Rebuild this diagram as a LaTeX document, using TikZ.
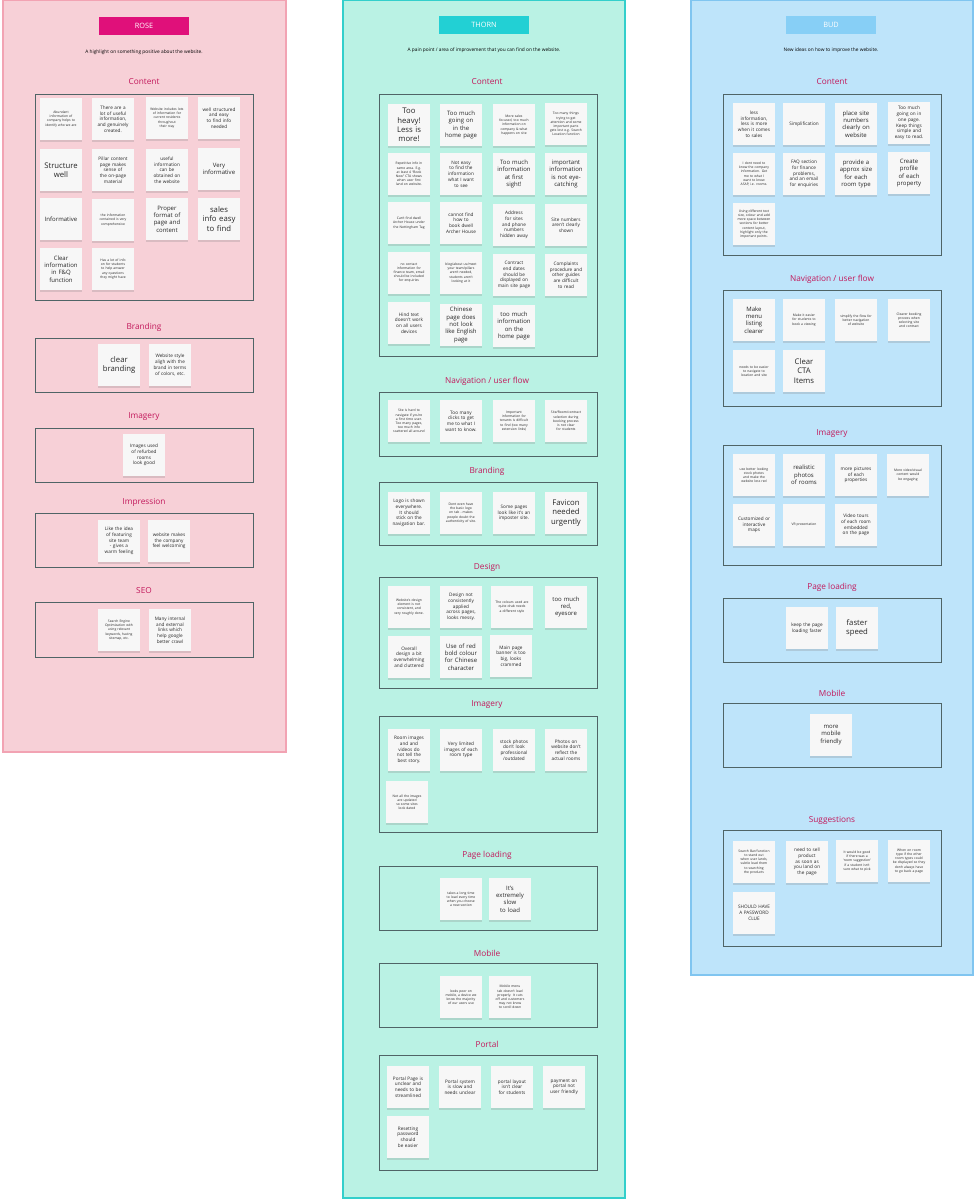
\documentclass[tikz,border=0pt]{standalone}
\usepackage{fontspec}
\setmainfont{Open Sans}
\usetikzlibrary{shadows}
\lefthyphenmin=62
\righthyphenmin=62
\definecolor{rosebg}{HTML}{F7D0D7}
\definecolor{roseln}{HTML}{F2A3B3}
\definecolor{rosehd}{HTML}{E0107A}
\definecolor{thbg}{HTML}{BAF2E4}
\definecolor{thln}{HTML}{33CFCB}
\definecolor{thhd}{HTML}{22D0D4}
\definecolor{budbg}{HTML}{BEE4FA}
\definecolor{budln}{HTML}{80C5F0}
\definecolor{budhd}{HTML}{87CFF6}
\definecolor{sectc}{HTML}{C2185B}
\definecolor{boxln}{HTML}{4F6466}
\tikzset{
 note/.style={fill=white!97!black,minimum width=31pt,minimum height=31pt,inner sep=0.5pt,align=center,text width=25pt,text=black!85,drop shadow={opacity=0.25,shadow xshift=0pt,shadow yshift=-2pt}},
 ts/.style={font=\fontsize{2.5}{3.1}\selectfont},
 tm/.style={font=\fontsize{3.5}{4.3}\selectfont},
 tl/.style={font=\fontsize{4.5}{5.5}\selectfont},
 tx/.style={font=\fontsize{5.8}{7}\selectfont},
 col/.style={draw=#1,line width=0.8pt},
 sbox/.style={draw=boxln,line width=0.6pt},
 stitle/.style={text=sectc,font=\fontsize{6.2}{7}\selectfont},
 hdr/.style={fill=#1,text=white,minimum width=67pt,minimum height=14pt,font=\fontsize{5.5}{6}\selectfont},
 sub/.style={font=\fontsize{3.6}{4.4}\selectfont}
}
\newcommand\stk[5]{\node[note,#4] (#1) at (#2,#3) {#5};}
\begin{document}
\begin{tikzpicture}[x=0.75pt,y=-0.75pt]
\useasboundingbox (0,0) rectangle (978,1199);
\fill[white] (0,0) rectangle (978,1199);
\draw[col=roseln,fill=rosebg] (3,0) rectangle (286,752);
\draw[col=thln,fill=thbg] (343,0) rectangle (625,1198);
\draw[col=budln,fill=budbg] (691,0) rectangle (973,975);
\node[hdr=rosehd] (hrose) at (144,26) {ROSE};
\node[hdr=thhd] (hthorn) at (484,25) {THORN};
\node[hdr=budhd] (hbud) at (831,25) {BUD};
\node[sub] (subr) at (144,52) {A highlight on something positive about the website.};
\node[sub] (subt) at (484,50) {A pain point / area of improvement that you can find on the website.};
\node[sub] (subb) at (831,50) {New ideas on how to improve the website.};
% ROSE
\node[stitle] (rt1) at (144,82) {Content};
\draw[sbox] (35,94) rectangle (253,300);
\node[stitle] (rt2) at (144,327) {Branding};
\draw[sbox] (35,338) rectangle (253,392);
\node[stitle] (rt3) at (144,417) {Imagery};
\draw[sbox] (35,428) rectangle (253,482);
\node[stitle] (rt4) at (144,502) {Impression};
\draw[sbox] (35,513) rectangle (253,567);
\node[stitle] (rt5) at (144,591) {SEO};
\draw[sbox] (35,602) rectangle (253,657);
\stk{r1}{61}{119}{ts}{Abundant information of company helps to identify who we are}
\stk{r2}{113}{119}{tm}{There are a lot of useful information, and genuinely created.}
\stk{r3}{167}{118}{ts}{Website includes lots of information for current residents throughout their stay}
\stk{r4}{219}{118}{tm}{well structured and easy to find info needed}
\stk{r5}{61}{170}{tx}{Structure well}
\stk{r6}{113}{170}{tm}{Pillar content page makes sense of the on-page material}
\stk{r7}{167}{170}{tm}{useful information can be obtained on the website}
\stk{r8}{219}{169}{tl}{Very informative}
\stk{r9}{61}{219}{tl}{Informative}
\stk{r10}{113}{220}{ts}{the information contained is very comprehensive}
\stk{r11}{167}{219}{tl}{Proper format of page and content}
\stk{r12}{219}{219}{tx}{sales info easy to find}
\stk{r13}{61}{269}{tl}{Clear information in F\&Q function}
\stk{r14}{113}{269}{ts}{Has a lot of info on for students to help answer any questions they might have}
\stk{r15}{119}{365}{tx}{clear branding}
\stk{r16}{170}{365}{tm}{Website style aligh with the brand in terms of colors, etc.}
\stk{r17}{144}{455}{tm}{Images used of refurbed rooms look good}
\stk{r18}{119}{541}{tm}{Like the idea of featuring site team - gives a warm feeling}
\stk{r19}{169}{541}{tm}{website makes the company feel welcoming}
\stk{r20}{119}{630}{ts}{Search Engine Optimization with using relevant keywords, having sitemap, etc.}
\stk{r21}{170}{630}{tm}{Many internal and external links which help google better crawl}
% THORN
\node[stitle] (tt1) at (487,82) {Content};
\draw[sbox] (379,94) rectangle (597,356);
\node[stitle] (tt2) at (487,381) {Navigation / user flow};
\draw[sbox] (379,392) rectangle (597,456);
\node[stitle] (tt3) at (487,471) {Branding};
\draw[sbox] (379,482) rectangle (597,545);
\node[stitle] (tt4) at (487,567) {Design};
\draw[sbox] (379,577) rectangle (597,688);
\node[stitle] (tt5) at (487,705) {Imagery};
\draw[sbox] (379,716) rectangle (597,832);
\node[stitle] (tt6) at (487,855) {Page loading};
\draw[sbox] (379,866) rectangle (597,930);
\node[stitle] (tt7) at (487,953) {Mobile};
\draw[sbox] (379,963) rectangle (597,1027);
\node[stitle] (tt8) at (487,1044) {Portal};
\draw[sbox] (379,1055) rectangle (597,1170);
\stk{t1}{409}{125}{tx}{Too heavy! Less is more!}
\stk{t2}{461}{125}{tl}{Too much going on in the home page}
\stk{t3}{514}{125}{ts}{More sales focused, too much information on company \& what happens on site}
\stk{t4}{566}{124}{ts}{Too many things trying to get attention and some important parts gets lost e.g. Search Location function}
\stk{t5}{409}{174}{ts}{Repetitive info in same area. E.g. at least 4 ``Book Now'' CTA shows when user first land on website.}
\stk{t6}{461}{174}{tm}{Not easy to find the information what I want to see}
\stk{t7}{514}{174}{tl}{Too much information at first sight!}
\stk{t8}{566}{174}{tl}{important information is not eye-catching}
\stk{t9}{409}{223}{ts}{Can't find dwell Archer House under the Nottingham Tag}
\stk{t10}{461}{223}{tm}{cannot find how to book dwell Archer House}
\stk{t11}{514}{225}{tm}{Address for sites and phone numbers hidden away}
\stk{t12}{566}{225}{tm}{Site numbers aren't clearly shown}
\stk{t13}{409}{273}{ts}{no contact information for finance team, email should be included for enquiries}
\stk{t14}{461}{273}{ts}{blog/about us/meet your team/pillars aren't needed, students aren't looking at it}
\stk{t15}{514}{275}{tm}{Contract end dates should be displayed on main site page}
\stk{t16}{566}{275}{tm}{Complaints procedure and other guides are difficult to read}
\stk{t17}{409}{323}{tm}{Hind text doesn't work on all users devices}
\stk{t18}{461}{325}{tl}{Chinese page does not look like English page}
\stk{t19}{514}{326}{tl}{too much information on the home page}
\stk{t20}{409}{421}{ts}{Site is hard to navigate if you're a first time user. Too many pages, too much info scattered all around}
\stk{t21}{461}{421}{tm}{Too many clicks to get me to what I want to know.}
\stk{t22}{514}{421}{ts}{Important information for tenants is difficult to find (too many extension links)}
\stk{t23}{566}{421}{ts}{Site/Room/contract selection during booking process is not clear for students}
\stk{t24}{409}{513}{tm}{Logo is shown everywhere. It should stick on the navigation bar.}
\stk{t25}{461}{513}{ts}{Dont even have the basic logo on tab - makes people doubt the authenticity of site.}
\stk{t26}{514}{513}{tm}{Some pages look like it's an imposter site.}
\stk{t27}{566}{513}{tx}{Favicon needed urgently}
\stk{t28}{409}{607}{ts}{Website's design element is not consistent, and very roughly done.}
\stk{t29}{461}{607}{tm}{Design not consistently applied across pages, looks messy.}
\stk{t30}{512}{607}{ts}{The colours used are quite drab needs a different style}
\stk{t31}{566}{607}{tl}{too much red, eyesore}
\stk{t32}{409}{657}{tm}{Overall design a bit overwhelming and cluttered}
\stk{t33}{461}{657}{tl}{Use of red bold colour for Chinese character}
\stk{t34}{511}{656}{tm}{Main page banner is too big, looks crammed}
\stk{t35}{409}{750}{tm}{Room images and and videos do not tell the best story.}
\stk{t36}{461}{750}{tm}{Very limited images of each room type}
\stk{t37}{514}{750}{tm}{stock photos don't look professional /outdated}
\stk{t38}{566}{750}{tm}{Photos on website don't reflect the actual rooms}
\stk{t39}{407}{802}{ts}{Not all the images are updated so some sites look dated}
\stk{t40}{461}{899}{ts}{takes a long time to load every time when you choose a new section}
\stk{t41}{510}{899}{tl}{It's extremely slow to load}
\stk{t42}{461}{997}{ts}{looks poor on mobile, a device we know the majority of our users use}
\stk{t43}{510}{997}{ts}{Mobile menu tab doesn't load properly. It cuts off and customers may not know to scroll down}
\stk{t44}{408}{1087}{tm}{Portal Page is unclear and needs to be streamlined}
\stk{t45}{460}{1087}{tm}{Portal system is slow and needs unclear}
\stk{t46}{512}{1087}{tm}{portal layout isn't clear for students}
\stk{t47}{564}{1087}{tm}{payment on portal not user friendly}
\stk{t48}{408}{1137}{tm}{Resetting password should be easier}
% BUD
\node[stitle] (bt1) at (832,82) {Content};
\draw[sbox] (723,94) rectangle (941,255);
\node[stitle] (bt2) at (832,279) {Navigation / user flow};
\draw[sbox] (723,290) rectangle (941,406);
\node[stitle] (bt3) at (832,434) {Imagery};
\draw[sbox] (723,445) rectangle (941,565);
\node[stitle] (bt4) at (832,587) {Page loading};
\draw[sbox] (723,598) rectangle (941,662);
\node[stitle] (bt5) at (832,693) {Mobile};
\draw[sbox] (723,703) rectangle (941,767);
\node[stitle] (bt6) at (832,820) {Suggestions};
\draw[sbox] (723,830) rectangle (941,946);
\stk{b1}{754}{124}{tm}{less information, less is more when it comes to sales}
\stk{b2}{804}{124}{tm}{Simplification}
\stk{b3}{856}{124}{tl}{place site numbers clearly on website}
\stk{b4}{909}{123}{tm}{Too much going on in one page. Keep things simple and easy to read.}
\stk{b5}{754}{174}{ts}{I dont need to know the company information. Get me to what I want to know ASAP, i.e. rooms.}
\stk{b6}{804}{174}{tm}{FAQ section for finance problems, and an email for enquiries}
\stk{b7}{856}{174}{tl}{provide a approx size for each room type}
\stk{b8}{909}{173}{tl}{Create profile of each property}
\stk{b9}{754}{224}{ts}{Using different text size, colour and add more space between sections for better content layout, highlight only the important points.}
\stk{b10}{754}{320}{tl}{Make menu listing clearer}
\stk{b11}{804}{320}{ts}{Make it easier for students to book a viewing}
\stk{b12}{856}{320}{ts}{simplify the flow for better navigation of website}
\stk{b13}{909}{320}{ts}{Clearer booking process when selecting site and contract}
\stk{b14}{754}{371}{ts}{needs to be easier to navigate to location and site}
\stk{b15}{804}{371}{tx}{Clear CTA Items}
\stk{b16}{754}{475}{ts}{use better looking stock photos and make the website less red}
\stk{b17}{804}{475}{tl}{realistic photos of rooms}
\stk{b18}{856}{475}{tm}{more pictures of each properties}
\stk{b19}{908}{475}{ts}{More video/visual content would be engaging}
\stk{b20}{754}{525}{tm}{Customized or interactive maps}
\stk{b21}{804}{525}{ts}{VR presentation}
\stk{b22}{856}{525}{tm}{Video tours of each room embedded on the page}
\stk{b23}{807}{628}{tm}{keep the page loading faster}
\stk{b24}{857}{628}{tx}{faster speed}
\stk{b25}{831}{735}{tl}{more mobile friendly}
\stk{b26}{754}{862}{ts}{Search Bar/function to stand out when user lands, subtle lead them to searching the products}
\stk{b27}{807}{862}{tm}{need to sell product as soon as you land on the page}
\stk{b28}{857}{861}{ts}{It would be good if there was a `room suggestion' if a student isn't sure what to pick}
\stk{b29}{909}{861}{ts}{When on room type if the other room types could be displayed so they donh always have to go back a page}
\stk{b30}{754}{913}{tm}{SHOULD HAVE A PASSWORD CLUE}
\end{tikzpicture}
\end{document}
